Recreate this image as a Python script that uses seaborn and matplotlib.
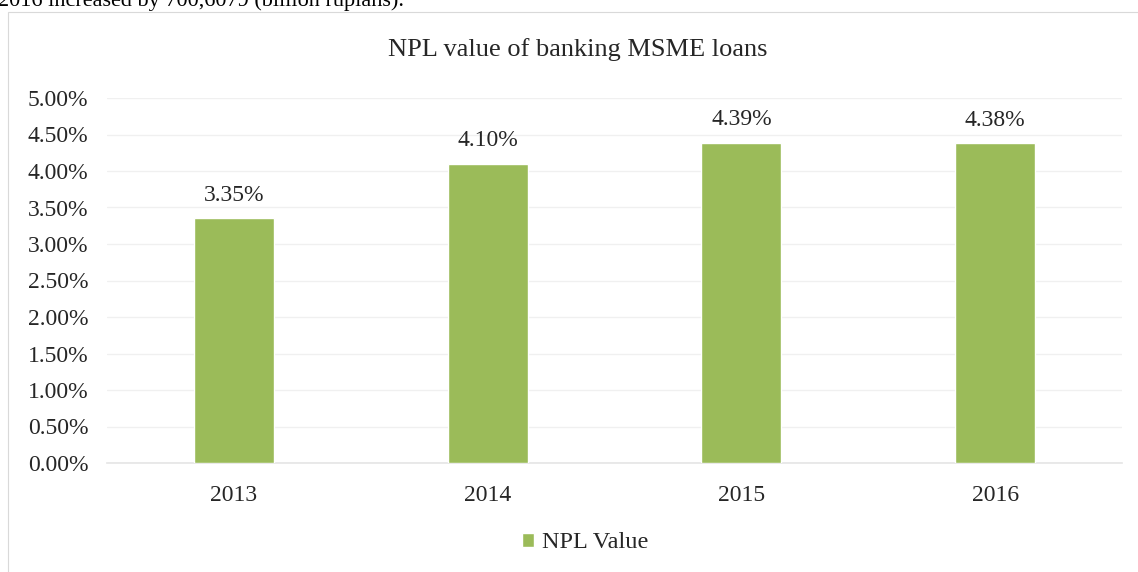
import matplotlib
matplotlib.use("Agg")
import matplotlib.pyplot as plt
import seaborn as sns
import pandas as pd
from matplotlib.patches import Rectangle, Patch

years = ["2013", "2014", "2015", "2016"]
npl_values = [0.0335, 0.0410, 0.0439, 0.0438]
value_labels = ["3.35%", "4.10%", "4.39%", "4.38%"]
y_ticks = [i * 0.005 for i in range(11)]
y_tick_labels = ["0.00%", "0.50%", "1.00%", "1.50%", "2.00%", "2.50%",
                 "3.00%", "3.50%", "4.00%", "4.50%", "5.00%"]
title = "NPL value of banking MSME loans"
series_name = "NPL Value"
top_text = "2016 increased by 700,6079 (billion rupiahs)."

sns.set_theme(style="white")
plt.rcParams['font.family'] = ['Liberation Serif', 'DejaVu Serif']

W, H = 1138, 572
fig = plt.figure(figsize=(W / 100, H / 100), dpi=100)
fig.patch.set_facecolor("white")

# chart frame
fig.patches.append(Rectangle((8 / W, -0.1), 1.2, (H - 12) / H + 0.1,
                             transform=fig.transFigure, fill=False,
                             edgecolor="#d9d9d9", linewidth=0.8))
# clipped text from document above (cut off at the top, as in the source)
fig.text(-2 / W, 1 - 6 / H, top_text, fontsize=16, ha="left", va="baseline",
         color="black")

ax = fig.add_axes([107 / W, (H - 463) / H, (1122 - 107) / W, (463 - 98) / H])
df = pd.DataFrame({"Year": years, "NPL": npl_values})
sns.barplot(data=df, x="Year", y="NPL", color="#9BBB59", saturation=1,
            width=0.315, ax=ax, zorder=3)

fs = 17
ax.set_ylim(0, 0.05)
ax.set_xlim(-0.5, 3.5)
ax.set_yticks(y_ticks)
ax.set_yticklabels(y_tick_labels, fontsize=fs)
ax.tick_params(axis="x", labelsize=fs, length=0, pad=15.5)
ax.tick_params(axis="y", length=0, pad=13.5)
ax.set_xlabel("")
ax.set_ylabel("")
ax.grid(axis="y", color="#f0f0f0", linewidth=1, zorder=0)
for s in ["top", "right", "left"]:
    ax.spines[s].set_visible(False)
ax.spines["bottom"].set_color("#e6e6e6")

for i, (v, lab) in enumerate(zip(npl_values, value_labels)):
    ax.annotate(lab, (i, v), xytext=(0, 9), textcoords="offset points",
                ha="center", va="bottom", fontsize=fs)

fig.text(578 / W, 1 - 50 / H, title, fontsize=19, ha="center", va="center")

fig.legend(handles=[Patch(facecolor="#9BBB59", label=series_name)],
           loc="center", bbox_to_anchor=(585 / W, 1 - 543 / H), frameon=False,
           fontsize=17.5, handlelength=0.5, handleheight=0.5,
           handletextpad=0.3)

fig.savefig("out.png", dpi=100)
